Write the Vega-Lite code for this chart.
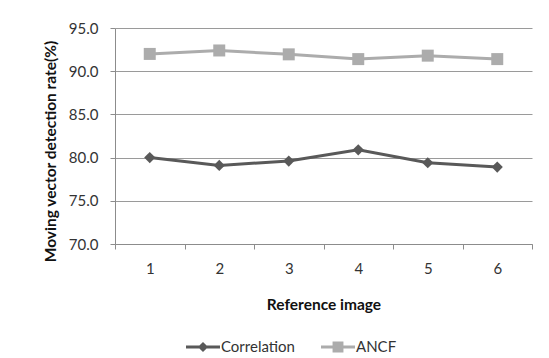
{
  "$schema": "https://vega.github.io/schema/vega-lite/v6.json",
  "autosize": {"type": "none"},
  "width": 417,
  "height": 216,
  "padding": {"left": 115, "top": 28, "right": 17, "bottom": 114},
  "background": "white",
  "data": {
    "values": [
      {"image": "1", "series": "Correlation", "rate": 80.0},
      {"image": "2", "series": "Correlation", "rate": 79.1},
      {"image": "3", "series": "Correlation", "rate": 79.6},
      {"image": "4", "series": "Correlation", "rate": 80.9},
      {"image": "5", "series": "Correlation", "rate": 79.4},
      {"image": "6", "series": "Correlation", "rate": 78.9},
      {"image": "1", "series": "ANCF", "rate": 92.0},
      {"image": "2", "series": "ANCF", "rate": 92.4},
      {"image": "3", "series": "ANCF", "rate": 91.95},
      {"image": "4", "series": "ANCF", "rate": 91.4},
      {"image": "5", "series": "ANCF", "rate": 91.8},
      {"image": "6", "series": "ANCF", "rate": 91.4}
    ]
  },
  "encoding": {
    "x": {
      "field": "image", "type": "ordinal",
      "scale": {"type": "band", "paddingInner": 0, "paddingOuter": 0},
      "axis": {
        "title": "Reference image", "labelAngle": 0, "tickBand": "extent",
        "labelPadding": 12, "titlePadding": 21, "grid": false
      }
    },
    "y": {
      "field": "rate", "type": "quantitative",
      "scale": {"domain": [70, 95], "nice": false, "zero": false},
      "axis": {
        "title": "Moving vector detection rate(%)",
        "values": [70, 75, 80, 85, 90, 95], "format": ".1f",
        "labelPadding": 12, "titlePadding": 10, "titleY": 123, "grid": true
      }
    }
  },
  "layer": [
    {
      "transform": [{"filter": "datum.rate < 0"}],
      "mark": {"type": "point", "filled": true, "opacity": 1, "size": 1156},
      "encoding": {
        "color": {
          "field": "series", "type": "nominal",
          "scale": {"domain": ["Correlation", "ANCF"], "range": ["#595959", "#acacac"]},
          "legend": {
            "title": null, "orient": "none", "direction": "horizontal",
            "legendX": 71, "legendY": 302,
            "labelFontSize": 15, "labelColor": "#333333", "labelOffset": 1,
            "columnPadding": 26, "symbolSize": 1156, "symbolStrokeWidth": 0,
            "symbolOpacity": 1
          }
        },
        "shape": {
          "field": "series", "type": "nominal",
          "scale": {
            "domain": ["Correlation", "ANCF"],
            "range": [
              "M-1,-0.09H1V0.09H-1Z M0,-0.3L0.3,0L0,0.3L-0.3,0Z",
              "M-1,-0.09H1V0.09H-1Z M-0.32,-0.32H0.32V0.32H-0.32Z"
            ]
          },
          "legend": {
            "title": null, "orient": "none", "direction": "horizontal",
            "legendX": 71, "legendY": 302,
            "labelFontSize": 15, "labelColor": "#333333", "labelOffset": 1,
            "columnPadding": 26, "symbolSize": 1156, "symbolStrokeWidth": 0,
            "symbolOpacity": 1
          }
        }
      }
    },
    {
      "mark": {"type": "line", "strokeWidth": 3},
      "encoding": {"color": {"field": "series", "type": "nominal"}}
    },
    {
      "transform": [{"filter": "datum.series === 'Correlation'"}],
      "mark": {"type": "point", "filled": true, "opacity": 1, "shape": "diamond", "size": 125},
      "encoding": {"color": {"field": "series", "type": "nominal"}}
    },
    {
      "transform": [{"filter": "datum.series === 'ANCF'"}],
      "mark": {"type": "point", "filled": true, "opacity": 1, "shape": "square", "size": 144},
      "encoding": {"color": {"field": "series", "type": "nominal"}}
    }
  ],
  "config": {
    "font": "Lato",
    "view": {"stroke": null},
    "axis": {
      "labelFont": "Lato", "labelFontSize": 15, "labelColor": "#333333",
      "titleFont": "Lato", "titleFontSize": 15.5, "titleFontWeight": "bold", "titleColor": "#111111",
      "domainColor": "#8c8c8c", "tickColor": "#8c8c8c", "gridColor": "#9a9a9a",
      "tickSize": 5, "domainWidth": 1, "gridWidth": 1
    },
    "legend": {"labelFont": "Lato"}
  }
}
